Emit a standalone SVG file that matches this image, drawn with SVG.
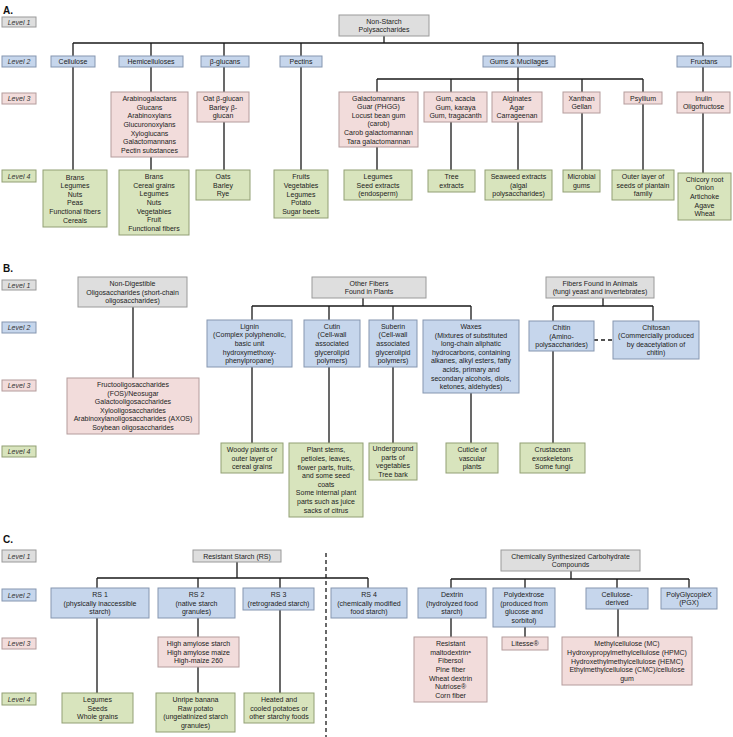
<svg xmlns="http://www.w3.org/2000/svg" width="733" height="737" viewBox="0 0 733 737">
<style>
text{font-family:"Liberation Sans",Arial,sans-serif;font-size:7px;fill:#222;text-anchor:middle}
.h{font-size:10px;font-weight:bold;text-anchor:start;fill:#111}
.lv{font-style:italic;fill:#333}
rect{stroke-width:1}
.g1{fill:#dedede;stroke:#9a9a9a}
.g2{fill:#c6d6ec;stroke:#8596b0}
.g3{fill:#f2dcdb;stroke:#b49c9c}
.g4{fill:#d8e4bd;stroke:#929f74}
.c path{fill:none;stroke:#1a1a1a;stroke-width:1.3}
.c .d{stroke-dasharray:4,3}
</style>
<rect width="733" height="737" fill="#fff"/>
<!-- Section headers -->
<text class="h" x="3" y="14">A.</text>
<text class="h" x="3" y="272">B.</text>
<text class="h" x="3" y="543">C.</text>
<!-- Level labels -->
<g id="levels">
<rect class="g1" x="2" y="17" width="34" height="10"/><text class="lv" x="19" y="24.5">Level 1</text>
<rect class="g2" x="2" y="56" width="34" height="11"/><text class="lv" x="19" y="64">Level 2</text>
<rect class="g3" x="2" y="93" width="34" height="11"/><text class="lv" x="19" y="101">Level 3</text>
<rect class="g4" x="2" y="170" width="34" height="12"/><text class="lv" x="19" y="178.5">Level 4</text>
<rect class="g1" x="2" y="280" width="34" height="10"/><text class="lv" x="19" y="287.5">Level 1</text>
<rect class="g2" x="2" y="322" width="34" height="11"/><text class="lv" x="19" y="330">Level 2</text>
<rect class="g3" x="2" y="380" width="34" height="11"/><text class="lv" x="19" y="388">Level 3</text>
<rect class="g4" x="2" y="446" width="34" height="11"/><text class="lv" x="19" y="454">Level 4</text>
<rect class="g1" x="2" y="550" width="34" height="12"/><text class="lv" x="19" y="558.5">Level 1</text>
<rect class="g2" x="2" y="589" width="34" height="12"/><text class="lv" x="19" y="597.5">Level 2</text>
<rect class="g3" x="2" y="638" width="34" height="11"/><text class="lv" x="19" y="646">Level 3</text>
<rect class="g4" x="2" y="693" width="34" height="12"/><text class="lv" x="19" y="701.5">Level 4</text>
</g>
<!-- Connectors -->
<g class="c" id="connectors">
<path d="M384,36V43M73,43H703M73,43V56M151,43V56M224,43V56M301,43V56M518,43V56M703,43V56"/>
<path d="M73,67V170M151,67V92M151,157V170M224,67V92M224,122V170M301,67V170"/>
<path d="M518,67V79M377,79H643M377,79V92M451,79V92M518,79V92M582,79V92M643,79V92"/>
<path d="M377,147V170M451,122V170M518,122V170M582,113V170M643,104V170M703,67V92M703,113V173"/>
<path d="M133,307V378"/>
<path d="M363,298V306M252,306H471M252,306V320M329,306V320M393,306V320M471,306V320"/>
<path d="M252,367V443M329,367V443M393,367V443M471,393V443"/>
<path d="M603,298V306M553,306H653M553,306V321M653,306V321M553,351V443"/>
<path class="d" d="M594,340H613"/>
<path d="M237,562V578M97,578H368M97,578V588M198,578V588M280,578V588M368,578V588"/>
<path d="M97,618V693M198,618V637M198,667V693M280,610V693"/>
<path d="M571,571V579M451,579H689M451,579V588M525,579V588M617,579V588M689,579V588"/>
<path d="M451,618V637M525,627V637M618,609V637"/>
<path class="d" d="M326,553V737"/>
</g>
<!-- Section A nodes -->
<g id="a-root"><rect class="g1" x="339" y="15" width="90" height="21"/><text x="384" y="23.7">Non-Starch<tspan x="384" dy="8.6">Polysaccharides</tspan></text></g>
<g id="a-cellulose"><rect class="g2" x="51" y="56" width="44" height="11"/><text x="73" y="64">Cellulose</text></g>
<g id="a-hemi"><rect class="g2" x="119" y="56" width="64" height="11"/><text x="151" y="64">Hemicelluloses</text></g>
<g id="a-bglucans"><rect class="g2" x="201" y="56" width="48" height="11"/><text x="225" y="64">β-glucans</text></g>
<g id="a-pectins"><rect class="g2" x="280" y="56" width="42" height="11"/><text x="301" y="64">Pectins</text></g>
<g id="a-gums"><rect class="g2" x="483" y="56" width="72" height="11"/><text x="519" y="64">Gums &amp; Mucilages</text></g>
<g id="a-fructans"><rect class="g2" x="677" y="56" width="54" height="11"/><text x="704" y="64">Fructans</text></g>
<g id="a-hemi-l3"><rect class="g3" x="111" y="92" width="77" height="65"/><text x="149.5" y="101.2">Arabinogalactans<tspan x="149.5" dy="8.6">Glucans</tspan><tspan x="149.5" dy="8.6">Arabinoxylans</tspan><tspan x="149.5" dy="8.6">Glucuronoxylans</tspan><tspan x="149.5" dy="8.6">Xyloglucans</tspan><tspan x="149.5" dy="8.6">Galactomannans</tspan><tspan x="149.5" dy="8.6">Pectin substances</tspan></text></g>
<g id="a-bglucan-l3"><rect class="g3" x="197" y="92" width="52" height="30"/><text x="223" y="100.9">Oat β-glucan<tspan x="223" dy="8.6">Barley β-</tspan><tspan x="223" dy="8.6">glucan</tspan></text></g>
<g id="a-galacto-l3"><rect class="g3" x="339" y="92" width="79" height="55"/><text x="378.5" y="100.5">Galactomannans<tspan x="378.5" dy="8.6">Guar (PHGG)</tspan><tspan x="378.5" dy="8.6">Locust bean gum</tspan><tspan x="378.5" dy="8.6">(carob)</tspan><tspan x="378.5" dy="8.6">Carob galactomannan</tspan><tspan x="378.5" dy="8.6">Tara galactomannan</tspan></text></g>
<g id="a-gum-l3"><rect class="g3" x="424" y="92" width="63" height="30"/><text x="455.5" y="100.9">Gum, acacia<tspan x="455.5" dy="8.6">Gum, karaya</tspan><tspan x="455.5" dy="8.6">Gum, tragacanth</tspan></text></g>
<g id="a-alg-l3"><rect class="g3" x="492" y="92" width="50" height="30"/><text x="517" y="100.9">Alginates<tspan x="517" dy="8.6">Agar</tspan><tspan x="517" dy="8.6">Carrageenan</tspan></text></g>
<g id="a-xanthan-l3"><rect class="g3" x="563" y="92" width="37" height="21"/><text x="581.5" y="100.7">Xanthan<tspan x="581.5" dy="8.6">Gellan</tspan></text></g>
<g id="a-psyllium-l3"><rect class="g3" x="624" y="92" width="38" height="12"/><text x="643" y="100.5">Psyllium</text></g>
<g id="a-inulin-l3"><rect class="g3" x="677" y="92" width="53" height="21"/><text x="703.5" y="100.7">Inulin<tspan x="703.5" dy="8.6">Oligofructose</tspan></text></g>
<g id="a-cellulose-l4"><rect class="g4" x="43" y="170" width="64" height="57"/><text x="75" y="179.5">Brans<tspan x="75" dy="8.6">Legumes</tspan><tspan x="75" dy="8.6">Nuts</tspan><tspan x="75" dy="8.6">Peas</tspan><tspan x="75" dy="8.6">Functional fibers</tspan><tspan x="75" dy="8.6">Cereals</tspan></text></g>
<g id="a-hemi-l4"><rect class="g4" x="119" y="170" width="70" height="65"/><text x="154" y="179.2">Brans<tspan x="154" dy="8.6">Cereal grains</tspan><tspan x="154" dy="8.6">Legumes</tspan><tspan x="154" dy="8.6">Nuts</tspan><tspan x="154" dy="8.6">Vegetables</tspan><tspan x="154" dy="8.6">Fruit</tspan><tspan x="154" dy="8.6">Functional fibers</tspan></text></g>
<g id="a-bglucan-l4"><rect class="g4" x="196" y="170" width="54" height="30"/><text x="223" y="178.9">Oats<tspan x="223" dy="8.6">Barley</tspan><tspan x="223" dy="8.6">Rye</tspan></text></g>
<g id="a-pectin-l4"><rect class="g4" x="274" y="170" width="54" height="48"/><text x="301" y="179.3">Fruits<tspan x="301" dy="8.6">Vegetables</tspan><tspan x="301" dy="8.6">Legumes</tspan><tspan x="301" dy="8.6">Potato</tspan><tspan x="301" dy="8.6">Sugar beets</tspan></text></g>
<g id="a-galacto-l4"><rect class="g4" x="344" y="170" width="68" height="30"/><text x="378" y="178.9">Legumes<tspan x="378" dy="8.6">Seed extracts</tspan><tspan x="378" dy="8.6">(endosperm)</tspan></text></g>
<g id="a-tree-l4"><rect class="g4" x="428" y="170" width="47" height="22"/><text x="451.5" y="179.2">Tree<tspan x="451.5" dy="8.6">extracts</tspan></text></g>
<g id="a-seaweed-l4"><rect class="g4" x="485" y="170" width="67" height="30"/><text x="518.5" y="178.9">Seaweed extracts<tspan x="518.5" dy="8.6">(algal</tspan><tspan x="518.5" dy="8.6">polysaccharides)</tspan></text></g>
<g id="a-microbial-l4"><rect class="g4" x="563" y="170" width="37" height="22"/><text x="581.5" y="179.2">Microbial<tspan x="581.5" dy="8.6">gums</tspan></text></g>
<g id="a-outer-l4"><rect class="g4" x="612" y="170" width="62" height="30"/><text x="643" y="178.9">Outer layer of<tspan x="643" dy="8.6">seeds of plantain</tspan><tspan x="643" dy="8.6">family</tspan></text></g>
<g id="a-chicory-l4"><rect class="g4" x="678" y="173" width="53" height="47"/><text x="704.5" y="181.8">Chicory root<tspan x="704.5" dy="8.6">Onion</tspan><tspan x="704.5" dy="8.6">Artichoke</tspan><tspan x="704.5" dy="8.6">Agave</tspan><tspan x="704.5" dy="8.6">Wheat</tspan></text></g>
<!-- Section B nodes -->
<g id="b-nondig"><rect class="g1" x="78" y="277" width="109" height="30"/><text x="132.5" y="285.9">Non-Digestible<tspan x="132.5" dy="8.6">Oligosaccharides (short-chain</tspan><tspan x="132.5" dy="8.6">oligosaccharides)</tspan></text></g>
<g id="b-nondig-l3"><rect class="g3" x="67" y="378" width="132" height="56"/><text x="133" y="387">Fructooligosaccharides<tspan x="133" dy="8.6">(FOS)/Neosugar</tspan><tspan x="133" dy="8.6">Galactooligosaccharides</tspan><tspan x="133" dy="8.6">Xylooligosaccharides</tspan><tspan x="133" dy="8.6">Arabinoxylanoligosaccharides (AXOS)</tspan><tspan x="133" dy="8.6">Soybean oligosaccharides</tspan></text></g>
<g id="b-other"><rect class="g1" x="312" y="277" width="114" height="21"/><text x="369" y="285.7">Other Fibers<tspan x="369" dy="8.6">Found in Plants</tspan></text></g>
<g id="b-lignin"><rect class="g2" x="207" y="320" width="85" height="47"/><text x="249.5" y="328.8">Lignin<tspan x="249.5" dy="8.6">(Complex polyphenolic,</tspan><tspan x="249.5" dy="8.6">basic unit</tspan><tspan x="249.5" dy="8.6">hydroxymethoxy-</tspan><tspan x="249.5" dy="8.6">phenylpropane)</tspan></text></g>
<g id="b-cutin"><rect class="g2" x="304" y="320" width="56" height="47"/><text x="332" y="328.8">Cutin<tspan x="332" dy="8.6">(Cell-wall</tspan><tspan x="332" dy="8.6">associated</tspan><tspan x="332" dy="8.6">glycerolipid</tspan><tspan x="332" dy="8.6">polymers)</tspan></text></g>
<g id="b-suberin"><rect class="g2" x="369" y="320" width="48" height="47"/><text x="393" y="328.8">Suberin<tspan x="393" dy="8.6">(Cell-wall</tspan><tspan x="393" dy="8.6">associated</tspan><tspan x="393" dy="8.6">glycerolipid</tspan><tspan x="393" dy="8.6">polymers)</tspan></text></g>
<g id="b-waxes"><rect class="g2" x="423" y="320" width="96" height="73"/><text x="471" y="328.9">Waxes<tspan x="471" dy="8.6">(Mixtures of substituted</tspan><tspan x="471" dy="8.6">long-chain aliphatic</tspan><tspan x="471" dy="8.6">hydrocarbons, containing</tspan><tspan x="471" dy="8.6">alkanes, alkyl esters, fatty</tspan><tspan x="471" dy="8.6">acids, primary and</tspan><tspan x="471" dy="8.6">secondary alcohols, diols,</tspan><tspan x="471" dy="8.6">ketones, aldehydes)</tspan></text></g>
<g id="b-animals"><rect class="g1" x="546" y="277" width="108" height="21"/><text x="600" y="285.7">Fibers Found in Animals<tspan x="600" dy="8.6">(fungi yeast and invertebrates)</tspan></text></g>
<g id="b-chitin"><rect class="g2" x="529" y="321" width="65" height="30"/><text x="561.5" y="329.9">Chitin<tspan x="561.5" dy="8.6">(Amino-</tspan><tspan x="561.5" dy="8.6">polysaccharides)</tspan></text></g>
<g id="b-chitosan"><rect class="g2" x="613" y="321" width="86" height="38"/><text x="656" y="329.6">Chitosan<tspan x="656" dy="8.6">(Commercially produced</tspan><tspan x="656" dy="8.6">by deacetylation of</tspan><tspan x="656" dy="8.6">chitin)</tspan></text></g>
<g id="b-woody"><rect class="g4" x="221" y="443" width="62" height="30"/><text x="252" y="451.9">Woody plants or<tspan x="252" dy="8.6">outer layer of</tspan><tspan x="252" dy="8.6">cereal grains</tspan></text></g>
<g id="b-stems"><rect class="g4" x="289" y="443" width="74" height="74"/><text x="326" y="452.4">Plant stems,<tspan x="326" dy="8.6">petioles, leaves,</tspan><tspan x="326" dy="8.6">flower parts, fruits,</tspan><tspan x="326" dy="8.6">and some seed</tspan><tspan x="326" dy="8.6">coats</tspan><tspan x="326" dy="8.6">Some internal plant</tspan><tspan x="326" dy="8.6">parts such as juice</tspan><tspan x="326" dy="8.6">sacks of citrus</tspan></text></g>
<g id="b-underground"><rect class="g4" x="369" y="443" width="48" height="37"/><text x="393" y="451.1">Underground<tspan x="393" dy="8.6">parts of</tspan><tspan x="393" dy="8.6">vegetables</tspan><tspan x="393" dy="8.6">Tree bark</tspan></text></g>
<g id="b-cuticle"><rect class="g4" x="446" y="443" width="52" height="30"/><text x="472" y="451.9">Cuticle of<tspan x="472" dy="8.6">vascular</tspan><tspan x="472" dy="8.6">plants</tspan></text></g>
<g id="b-crustacean"><rect class="g4" x="520" y="443" width="65" height="30"/><text x="552.5" y="451.9">Crustacean<tspan x="552.5" dy="8.6">exoskeletons</tspan><tspan x="552.5" dy="8.6">Some fungi</tspan></text></g>
<!-- Section C nodes -->
<g id="c-rs"><rect class="g1" x="193" y="550" width="88" height="12"/><text x="237" y="558.5">Resistant Starch (RS)</text></g>
<g id="c-rs1"><rect class="g2" x="51" y="588" width="98" height="30"/><text x="100" y="596.9">RS 1<tspan x="100" dy="8.6">(physically inaccessible</tspan><tspan x="100" dy="8.6">starch)</tspan></text></g>
<g id="c-rs2"><rect class="g2" x="158" y="588" width="77" height="30"/><text x="196.5" y="596.9">RS 2<tspan x="196.5" dy="8.6">(native starch</tspan><tspan x="196.5" dy="8.6">granules)</tspan></text></g>
<g id="c-rs3"><rect class="g2" x="243" y="588" width="71" height="22"/><text x="278.5" y="597.2">RS 3<tspan x="278.5" dy="8.6">(retrograded starch)</tspan></text></g>
<g id="c-rs4"><rect class="g2" x="331" y="588" width="76" height="30"/><text x="369" y="596.9">RS 4<tspan x="369" dy="8.6">(chemically modified</tspan><tspan x="369" dy="8.6">food starch)</tspan></text></g>
<g id="c-rs2-l3"><rect class="g3" x="158" y="637" width="81" height="30"/><text x="198.5" y="645.9">High amylose starch<tspan x="198.5" dy="8.6">High amylose maize</tspan><tspan x="198.5" dy="8.6">High-maize 260</tspan></text></g>
<g id="c-rs1-l4"><rect class="g4" x="62" y="693" width="71" height="30"/><text x="97.5" y="701.9">Legumes<tspan x="97.5" dy="8.6">Seeds</tspan><tspan x="97.5" dy="8.6">Whole grains</tspan></text></g>
<g id="c-rs2-l4"><rect class="g4" x="156" y="693" width="79" height="39"/><text x="195.5" y="702.1">Unripe banana<tspan x="195.5" dy="8.6">Raw potato</tspan><tspan x="195.5" dy="8.6">(ungelatinized starch</tspan><tspan x="195.5" dy="8.6">granules)</tspan></text></g>
<g id="c-rs3-l4"><rect class="g4" x="244" y="693" width="70" height="30"/><text x="279" y="701.9">Heated and<tspan x="279" dy="8.6">cooled potatoes or</tspan><tspan x="279" dy="8.6">other starchy foods</tspan></text></g>
<g id="c-chem"><rect class="g1" x="501" y="550" width="139" height="21"/><text x="570.5" y="558.7">Chemically Synthesized Carbohydrate<tspan x="570.5" dy="8.6">Compounds</tspan></text></g>
<g id="c-dextrin"><rect class="g2" x="418" y="588" width="68" height="30"/><text x="452" y="596.9">Dextrin<tspan x="452" dy="8.6">(hydrolyzed food</tspan><tspan x="452" dy="8.6">starch)</tspan></text></g>
<g id="c-polydextrose"><rect class="g2" x="493" y="588" width="62" height="39"/><text x="524" y="597.1">Polydextrose<tspan x="524" dy="8.6">(produced from</tspan><tspan x="524" dy="8.6">glucose and</tspan><tspan x="524" dy="8.6">sorbitol)</tspan></text></g>
<g id="c-cellder"><rect class="g2" x="586" y="588" width="62" height="21"/><text x="617" y="596.7">Cellulose-<tspan x="617" dy="8.6">derived</tspan></text></g>
<g id="c-pgx"><rect class="g2" x="661" y="588" width="56" height="21"/><text x="689" y="596.7">PolyGlycopleX<tspan x="689" dy="8.6">(PGX)</tspan></text></g>
<g id="c-dextrin-l3"><rect class="g3" x="414" y="637" width="73" height="65"/><text x="450.5" y="646.2">Resistant<tspan x="450.5" dy="8.6">maltodextrinᵃ</tspan><tspan x="450.5" dy="8.6">Fibersol</tspan><tspan x="450.5" dy="8.6">Pine fiber</tspan><tspan x="450.5" dy="8.6">Wheat dextrin</tspan><tspan x="450.5" dy="8.6">Nutriose®</tspan><tspan x="450.5" dy="8.6">Corn fiber</tspan></text></g>
<g id="c-litesse"><rect class="g3" x="502" y="637" width="46" height="13"/><text x="525" y="646">Litesse®</text></g>
<g id="c-cellder-l3"><rect class="g3" x="562" y="637" width="130" height="48"/><text x="627" y="646.3">Methylcellulose (MC)<tspan x="627" dy="8.6">Hydroxypropylmethylcellulose (HPMC)</tspan><tspan x="627" dy="8.6">Hydroxethylmethylcellulose (HEMC)</tspan><tspan x="627" dy="8.6">Ethylmethylcellulose (CMC)/cellulose</tspan><tspan x="627" dy="8.6">gum</tspan></text></g>
</svg>
